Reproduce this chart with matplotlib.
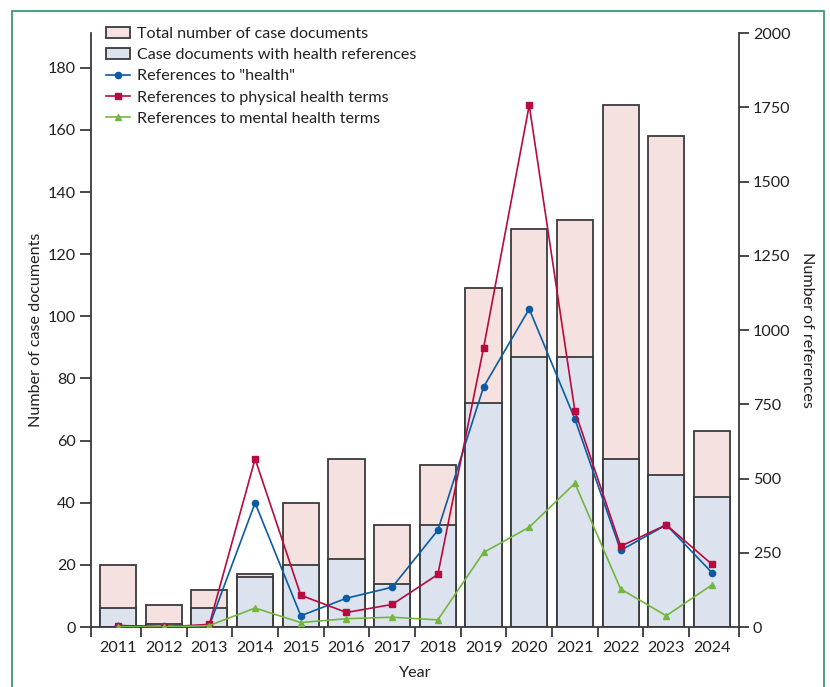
import matplotlib.pyplot as plt
from matplotlib.patches import Rectangle
import numpy as np

years = ['2011', '2012', '2013', '2014', '2015', '2016', '2017',
         '2018', '2019', '2020', '2021', '2022', '2023', '2024']

# document counts (left axis)
total_docs = [20, 7, 12, 17, 40, 54, 33, 52, 109, 128, 131, 168, 158, 63]
health_docs = [6, 1, 6, 16, 20, 22, 14, 33, 72, 87, 87, 54, 49, 42]

# reference counts (right axis)
refs_health = [5, 2, 5, 418, 38, 97, 134, 326, 808, 1071, 700, 258, 344, 183]
refs_physical = [5, 0, 9, 566, 107, 49, 76, 177, 939, 1757, 727, 272, 344, 211]
refs_mental = [1, 0, 5, 64, 15, 28, 33, 24, 251, 336, 484, 128, 38, 142]

plt.rcParams['font.family'] = ['Lato', 'DejaVu Sans']
fs = 11.6
text_col = '#231F20'
edge_col = '#3A3A3A'

fig = plt.figure(figsize=(8.3, 6.87), dpi=100)
ax = fig.add_axes([0.1096, 0.0873, 0.7808, 0.8646])
ax2 = ax.twinx()

x = np.arange(len(years))
bar_w = 0.79

b1 = ax.bar(x, total_docs, width=bar_w, color='#F5E1DF', edgecolor=edge_col,
            linewidth=1.3, label='Total number of case documents')
b2 = ax.bar(x, health_docs, width=bar_w, color='#DCE3EF', edgecolor=edge_col,
            linewidth=1.3, label='Case documents with health references')

l1, = ax2.plot(x, refs_health, color='#0B5CA3', lw=1.2, marker='o', ms=4.5,
               label='References to "health"')
l2, = ax2.plot(x, refs_physical, color='#B80A3E', lw=1.2, marker='s', ms=5,
               label='References to physical health terms')
l3, = ax2.plot(x, refs_mental, color='#72B63F', lw=1.2, marker='^', ms=5,
               label='References to mental health terms')

xmin, xmax = -0.592, 13.592
ax.set_xlim(xmin, xmax)
ax.set_ylim(0, 191.2)
ax2.set_ylim(0, 2000)

# axis styling
for a in (ax, ax2):
    a.spines['top'].set_visible(False)
    for s in a.spines.values():
        s.set_color(edge_col)
        s.set_linewidth(1.3)
ax.spines['right'].set_visible(False)
ax2.spines['left'].set_visible(False)
ax2.spines['bottom'].set_visible(False)

ax.set_yticks(np.arange(0, 181, 20))
ax2.set_yticks(np.arange(0, 2001, 250))
ax.tick_params(axis='y', length=8, width=1.3, color=edge_col, labelcolor=text_col,
               labelsize=fs, pad=3)
ax2.tick_params(axis='y', length=7, width=1.3, color=edge_col, labelcolor=text_col,
                labelsize=fs, pad=3)

ax.set_xticks(x)
ax.set_xticklabels(years)
ax.set_xticks([xmin] + list(np.arange(0.5, 13, 1.0)) + [xmax], minor=True)
ax.tick_params(axis='x', which='major', length=0, labelcolor=text_col,
               labelsize=fs, pad=10)
ax.tick_params(axis='x', which='minor', length=7, width=1.3, color=edge_col)

ax.set_xlabel('Year', color=text_col, fontsize=fs, labelpad=8)
ax.set_ylabel('Number of case documents', color=text_col, fontsize=fs, labelpad=3)
ax2.set_ylabel('Number of references', color=text_col, fontsize=fs,
               rotation=-90, labelpad=17)

leg = ax2.legend(handles=[b1, b2, l1, l2, l3], loc='upper left',
                 bbox_to_anchor=(0.023, 1.01), frameon=False, borderpad=0,
                 handlelength=1.5, handletextpad=0.45, labelspacing=0.42,
                 fontsize=fs, borderaxespad=0)
for t in leg.get_texts():
    t.set_color(text_col)

# outer frame
fig.patches.append(Rectangle((11.5 / 830, -0.05), (824 - 11.5) / 830, 1.05 - 10.5 / 687,
                             transform=fig.transFigure, fill=False,
                             edgecolor='#3E9A6E', linewidth=1.3))

fig.savefig('out.png', dpi=100)
